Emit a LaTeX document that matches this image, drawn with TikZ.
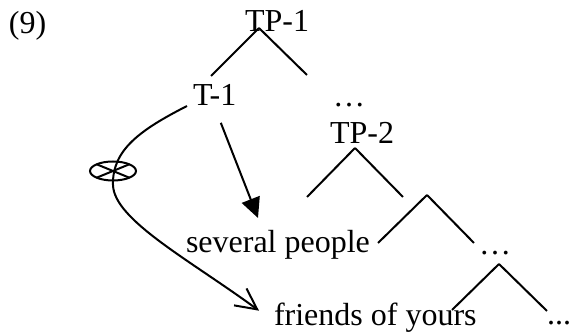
\documentclass[tikz,border=0pt]{standalone}
\usepackage{fontspec}
\setmainfont{Liberation Serif}
\usetikzlibrary{arrows.meta}

\begin{document}
\begin{tikzpicture}[x=0.5pt,y=-0.5pt,line width=1pt,
  word/.style={inner sep=0pt,anchor=base west,font=\fontsize{16}{19}\selectfont},
  dots/.style={inner sep=0pt,anchor=base,font=\fontsize{16}{19}\selectfont}]
  \useasboundingbox (0,0) rectangle (569,335);
  % labels
  \node[word] (ex) at (8,34) {(9)};
  \node[word] (tp1) at (244,32) {TP-1};
  \node[word] (t1) at (192,106) {T-1};
  \node[dots] (d1) at (349,107) {…};
  \node[word] (tp2) at (329,144) {TP-2};
  \node[dots] (d2) at (495,255) {…};
  \node[word] (sev) at (185,253) {several people};
  \node[word] (fr) at (273,326) {friends of yours};
  \node[word] (d3) at (546,325) {...};
  % branches
  \coordinate (a1) at (259,28);
  \coordinate (a2) at (355,148);
  \coordinate (a3) at (427,195);
  \coordinate (a4) at (499,264);
  \draw (a1) -- ++(-48,48) (a1) -- ++(48,47);
  \draw (a2) -- ++(-48,49) (a2) -- ++(48,49);
  \draw (a3) -- ++(-49,48) (a3) -- ++(47,48);
  \draw (a4) -- ++(-47,46) (a4) -- ++(48,47);
  % arrows
  \coordinate (hit) at (258,218);
  \draw[shorten <=8.5pt,-{Triangle[length=10pt,width=9.5pt]}] (t1.south) -- (hit);
  \coordinate (loop) at (113,185);
  \draw[-{Straight Barb[length=10.5pt,width=10.5pt]}]
    ([xshift=-2.5pt]t1.base west) .. controls (140,130) and (112,150) .. (loop)
    .. controls (114,220) and (190,260) .. ([xshift=-7pt,yshift=3.75pt]fr.west);
  % negation
  \coordinate (neg) at (113,171);
  \draw (neg) ellipse (23 and 9.5);
  \draw (neg) +(-16.3,-6.7) -- +(16.3,6.7) (neg) +(-16.3,6.7) -- +(16.3,-6.7);
\end{tikzpicture}
\end{document}
